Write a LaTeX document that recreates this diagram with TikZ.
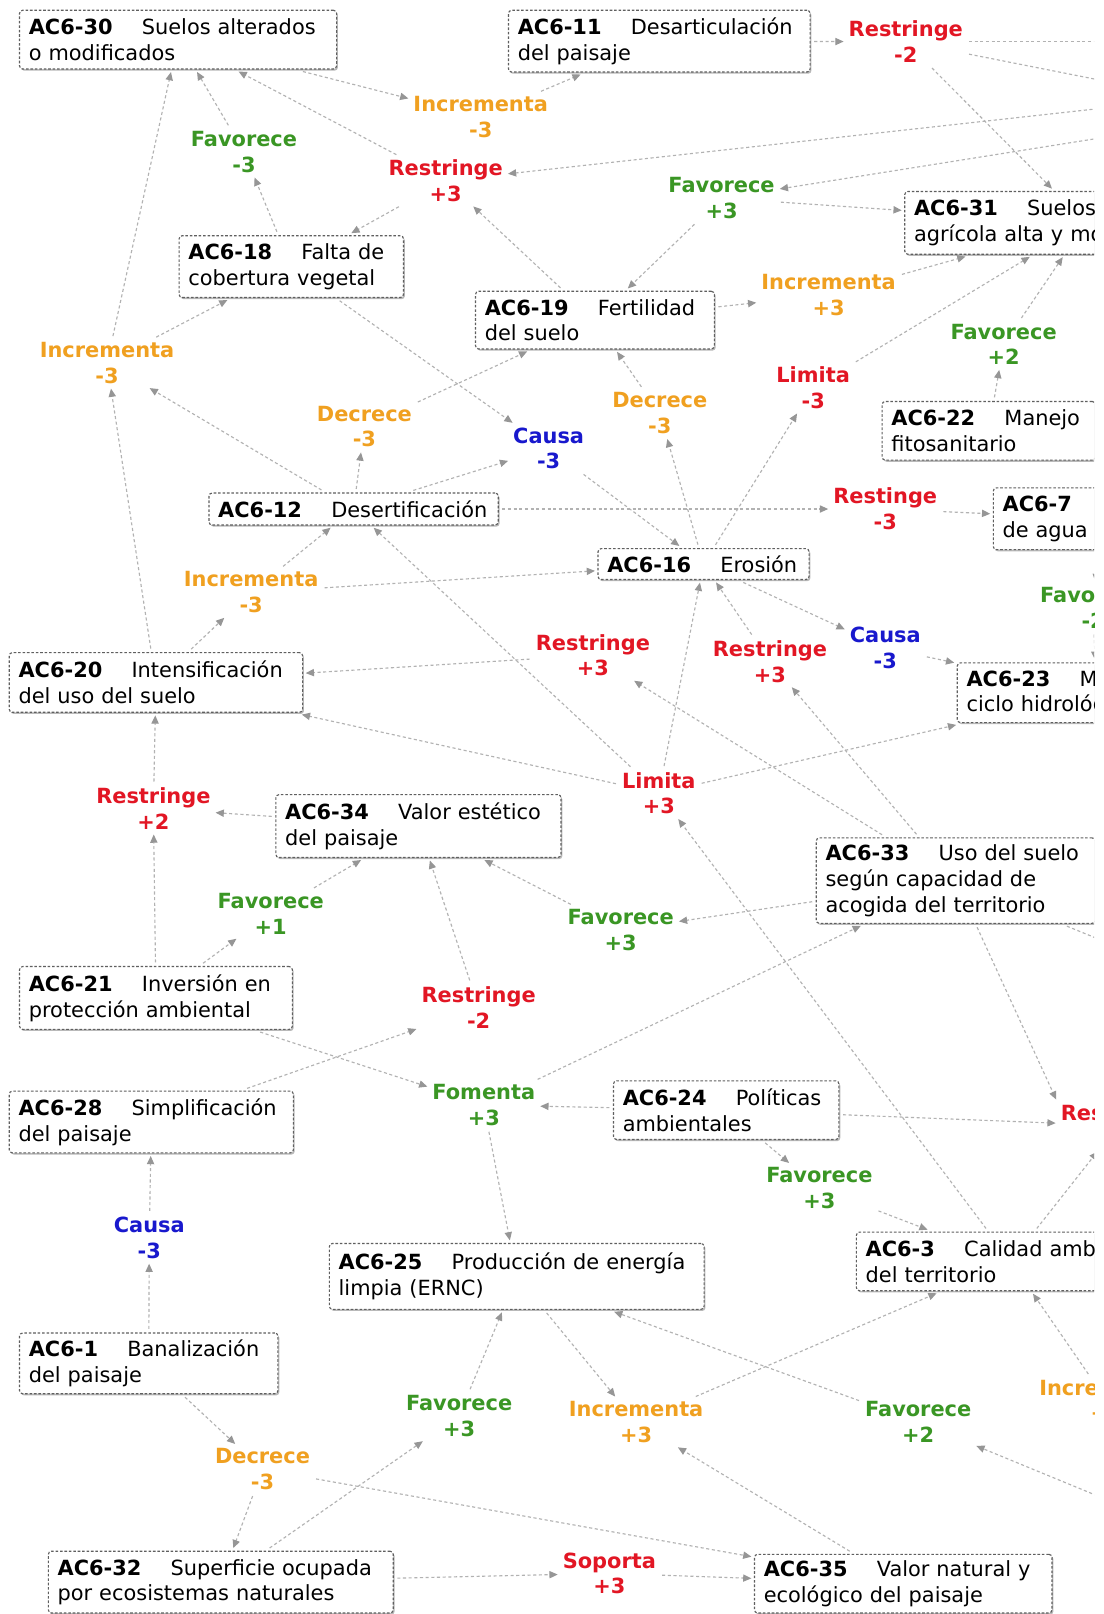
\documentclass[tikz,border=0pt]{standalone}
\usepackage{fontspec}
\setmainfont{DejaVu Sans}
\usetikzlibrary{arrows.meta,shadows}
\definecolor{corange}{RGB}{240,160,32}
\definecolor{cred}{RGB}{226,22,36}
\definecolor{cgreen}{RGB}{58,150,36}
\definecolor{cblue}{RGB}{24,24,205}
\definecolor{cline}{RGB}{178,178,178}
\definecolor{ctip}{RGB}{150,150,150}
\definecolor{cborder}{RGB}{95,95,95}
\newcommand{\acid}[1]{\textbf{#1}\hspace{1.4em}}
\pgfdeclarelayer{bg}
\pgfsetlayers{bg,main}
\tikzset{
  concept/.style={draw=cborder, line width=1.1pt, dash pattern=on 2.5pt off 1.8pt,
    rounded corners=3pt, fill=white, anchor=north west, inner xsep=9pt, inner ysep=0pt,
    align=left, font=\fontsize{20.3pt}{25pt}\selectfont, outer sep=2pt,
    drop shadow={shadow xshift=1.3pt, shadow yshift=-1.6pt, fill=black!50, opacity=0.55}},
  link/.style={align=center, inner sep=3pt, outer sep=1pt,
    font=\fontsize{20.3pt}{25pt}\selectfont\bfseries},
  lor/.style={link, text=corange},
  lre/.style={link, text=cred},
  lgr/.style={link, text=cgreen},
  lbl/.style={link, text=cblue},
  conn/.style={draw=cline, line width=1.1pt, dash pattern=on 3pt off 2.5pt,
    -{Triangle[length=8pt,width=7pt,fill=ctip,color=ctip]}, shorten >=1pt, shorten <=2pt},
}
\begin{document}
\begin{tikzpicture}[x=1pt,y=-1pt]
\useasboundingbox (0,0) rectangle (1072,1568);
\begin{pgfonlayer}{bg}
\fill[white] (0,0) rectangle (1072,1568);
\end{pgfonlayer}
\begin{scope}
\clip (0,0) rectangle (1063,1568);
% concepts
\node[concept, text width=290pt, minimum height=57pt] (b30) at (17,8) {\mbox{\acid{AC6-30}Suelos alterados}\\o modificados};
\node[concept, text width=275pt, minimum height=60pt] (b11) at (492,8) {\mbox{\acid{AC6-11}Desarticulación}\\del paisaje};
\node[concept, text width=200pt, minimum height=60pt] (b18) at (172,227) {\mbox{\acid{AC6-18}Falta de}\\cobertura vegetal};
\node[concept, text width=214pt, minimum height=56pt] (b19) at (460,281) {\mbox{\acid{AC6-19}Fertilidad}\\del suelo};
\node[concept, text width=334pt, minimum height=61pt] (b31) at (877,184) {\mbox{\acid{AC6-31}Suelos}\\\mbox{agrícola alta y moderada}};
\node[concept, text width=189pt, minimum height=57pt] (b22) at (855,388) {\mbox{\acid{AC6-22}Manejo}\\fitosanitario};
\node[concept, text width=192pt, minimum height=60pt] (b7) at (963,472) {\textbf{AC6-7}\\de agua};
\node[concept, text width=263pt, minimum height=31pt] (b12) at (201,477) {\mbox{\acid{AC6-12}Desertificación}};
\node[concept, text width=187pt, minimum height=30pt] (b16) at (579,531) {\mbox{\acid{AC6-16}Erosión}};
\node[concept, text width=252pt, minimum height=58pt] (b23) at (928,642) {\mbox{\acid{AC6-23}Modificación del}\\\mbox{ciclo hidrológico}};
\node[concept, text width=267pt, minimum height=58pt] (b20) at (7,632) {\mbox{\acid{AC6-20}Intensificación}\\del uso del suelo};
\node[concept, text width=259pt, minimum height=61pt] (b34) at (266,770) {\mbox{\acid{AC6-34}Valor estético}\\del paisaje};
\node[concept, text width=253pt, minimum height=83pt] (b33) at (791,812) {\mbox{\acid{AC6-33}Uso del suelo}\\según capacidad de\\acogida del territorio};
\node[concept, text width=247pt, minimum height=61pt] (b21) at (17,937) {\mbox{\acid{AC6-21}Inversión en}\\protección ambiental};
\node[concept, text width=258pt, minimum height=60pt] (b28) at (7,1058) {\mbox{\acid{AC6-28}Simplificación}\\del paisaje};
\node[concept, text width=201pt, minimum height=57pt] (b24) at (594,1048) {\mbox{\acid{AC6-24}Políticas}\\ambientales};
\node[concept, text width=282pt, minimum height=57pt] (b3) at (830,1195) {\mbox{\acid{AC6-3}Calidad ambiental}\\del territorio};
\node[concept, text width=346pt, minimum height=64pt] (b25) at (318,1206) {\mbox{\acid{AC6-25}Producción de energía}\\limpia (ERNC)};
\node[concept, text width=233pt, minimum height=59pt] (b1) at (17,1293) {\mbox{\acid{AC6-1}Banalización}\\del paisaje};
\node[concept, text width=317pt, minimum height=60pt] (b32) at (45,1505) {\mbox{\acid{AC6-32}Superficie ocupada}\\por ecosistemas naturales};
\node[concept, text width=271pt, minimum height=57pt] (b35) at (731,1508) {\mbox{\acid{AC6-35}Valor natural y}\\ecológico del paisaje};
% linking phrases
\node[lor] (l1) at (467,113.5) {Incrementa\\-3};
\node[lre] (l2) at (880,40.5) {Restringe\\-2};
\node[lgr] (l3) at (237,147.5) {Favorece\\-3};
\node[lre] (l4) at (433,175.5) {Restringe\\+3};
\node[lgr] (l5) at (701,192.5) {Favorece\\+3};
\node[lor] (l6) at (805,286.5) {Incrementa\\+3};
\node[lor] (l7) at (104,352.5) {Incrementa\\-3};
\node[lgr] (l8) at (975,334.5) {Favorece\\+2};
\node[lre] (l9) at (790,376.5) {Limita\\-3};
\node[lor] (l10) at (354,414.5) {Decrece\\-3};
\node[lor] (l11) at (641,401.5) {Decrece\\-3};
\node[lbl] (l12) at (533,435.5) {Causa\\-3};
\node[lre] (l13) at (860,494.5) {Restinge\\-3};
\node[lor] (l14) at (244,575.5) {Incrementa\\-3};
\node[lgr] (l15) at (1062,590.5) {Favorece\\-2};
\node[lre] (l16) at (576,636.5) {Restringe\\+3};
\node[lre] (l17) at (748,642.5) {Restringe\\+3};
\node[lbl] (l18) at (860,629.5) {Causa\\-3};
\node[lre] (l19) at (640,770.5) {Limita\\+3};
\node[lre] (l20) at (149,785.5) {Restringe\\+2};
\node[lgr] (l21) at (263,887.5) {Favorece\\+1};
\node[lgr] (l22) at (603,903.5) {Favorece\\+3};
\node[lre] (l23) at (465,978.5) {Restringe\\-2};
\node[lgr] (l24) at (470,1073.5) {Fomenta\\+3};
\node[lre] (l25) at (1086,1093.5) {Restringe\\\phantom{+3}};
\node[lgr] (l26) at (796,1154.5) {Favorece\\+3};
\node[lbl] (l27) at (145,1202.5) {Causa\\-3};
\node[lor] (l28) at (1075,1360.5) {Incrementa\\+3};
\node[lgr] (l29) at (446,1375.5) {Favorece\\+3};
\node[lor] (l30) at (618,1381.5) {Incrementa\\+3};
\node[lgr] (l31) at (892,1381.5) {Favorece\\+2};
\node[lor] (l32) at (255,1427.5) {Decrece\\-3};
\node[lre] (l33) at (592,1528.5) {Soporta\\+3};
% off-picture ends
\coordinate (r1) at (1200,40.5);
\coordinate (r2) at (1200,103.9);
\coordinate (r3) at (1200,90.9);
\coordinate (r4) at (1200,113.2);
\coordinate (r5) at (1200,966.7);
\coordinate (r6) at (1200,1508.4);
\end{scope}
\begin{pgfonlayer}{bg}
\begin{scope}
\clip (0,0) rectangle (1063,1568);
\draw[conn] (b30) -- (l1);
\draw[conn] (l1) -- (b11);
\draw[conn] (b11) -- (l2);
\draw[conn] (l2) -- (r1);
\draw[conn] (l2) -- (r2);
\draw[conn] (l2) -- (b31);
\draw[conn] (r3) -- (l4);
\draw[conn] (r4) -- (l5);
\draw[conn] (l5) -- (b31);
\draw[conn] (l5) -- (b19);
\draw[conn] (b19) -- (l4);
\draw[conn] (l4) -- (b30);
\draw[conn] (l4) -- (b18);
\draw[conn] (b18) -- (l3);
\draw[conn] (l3) -- (b30);
\draw[conn] (l7) -- (b30);
\draw[conn] (l7) -- (b18);
\draw[conn] (b18) -- (l12);
\draw[conn] (l10) -- (b19);
\draw[conn] (b12) -- (l10);
\draw[conn] (b12) -- (l7);
\draw[conn] (b12) -- (l12);
\draw[conn] (l12) -- (b16);
\draw[conn] (b16) -- (l11);
\draw[conn] (l11) -- (b19);
\draw[conn] (b16) -- (l9);
\draw[conn] (l9) -- (b31);
\draw[conn] (l6) -- (b31);
\draw[conn] (b19) -- (l6);
\draw[conn] (b22) -- (l8);
\draw[conn] (l8) -- (b31);
\draw[conn] (b12) -- (l13);
\draw[conn] (l13) -- (b7);
\draw[conn] (b20) -- (l14);
\draw[conn] (l14) -- (b12);
\draw[conn] (l14) -- (b16);
\draw[conn] (b20) -- (l7);
\draw[conn] (l16) -- (b20);
\draw[conn] (l19) -- (b12);
\draw[conn] (l19) -- (b16);
\draw[conn] (l19) -- (b20);
\draw[conn] (l19) -- (b23);
\draw[conn] (b3) -- (l19);
\draw[conn] (l17) -- (b16);
\draw[conn] (b33) -- (l17);
\draw[conn] (b33) -- (l16);
\draw[conn] (b16) -- (l18);
\draw[conn] (l18) -- (b23);
\draw[conn] (b7) -- (l15);
\draw[conn] (l15) -- (b23);
\draw[conn] (b34) -- (l20);
\draw[conn] (l20) -- (b20);
\draw[conn] (b21) -- (l20);
\draw[conn] (b21) -- (l21);
\draw[conn] (l21) -- (b34);
\draw[conn] (l23) -- (b34);
\draw[conn] (l22) -- (b34);
\draw[conn] (b33) -- (l22);
\draw[conn] (b28) -- (l23);
\draw[conn] (b21) -- (l24);
\draw[conn] (l24) -- (b33);
\draw[conn] (b24) -- (l24);
\draw[conn] (l24) -- (b25);
\draw[conn] (b24) -- (l25);
\draw[conn] (b24) -- (l26);
\draw[conn] (l26) -- (b3);
\draw[conn] (b33) -- (l25.north west);
\draw[conn] (b3) -- (l25);
\draw[conn] (b33) -- (r5);
\draw[conn] (l27) -- (b28);
\draw[conn] (b1) -- (l27);
\draw[conn] (b1) -- (l32);
\draw[conn] (l32) -- (b32);
\draw[conn] (l32) -- (b35);
\draw[conn] (b32) -- (l29);
\draw[conn] (l29) -- (b25);
\draw[conn] (b32) -- (l33);
\draw[conn] (l33) -- (b35);
\draw[conn] (b25) -- (l30);
\draw[conn] (l30) -- (b3);
\draw[conn] (b35) -- (l30);
\draw[conn] (l31) -- (b25);
\draw[conn] (r6) -- (l31);
\draw[conn] (l28) -- (b3);
\end{scope}
\end{pgfonlayer}
\end{tikzpicture}
\end{document}
